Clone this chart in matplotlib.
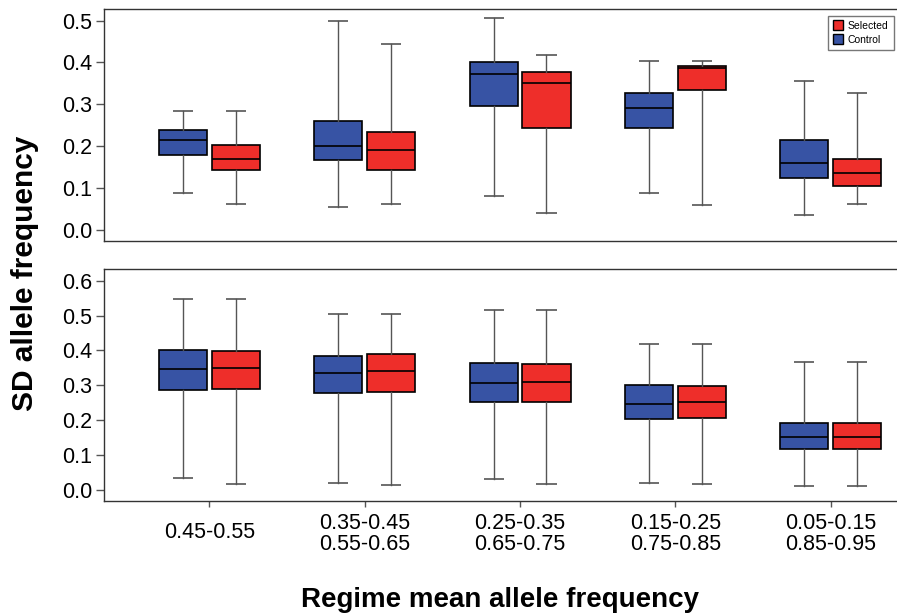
import matplotlib.pyplot as plt
import matplotlib.transforms as mtransforms
import numpy as np
from matplotlib.lines import Line2D

plt.rcParams['font.family'] = ['Liberation Sans', 'DejaVu Sans']

groups = ['0.45-0.55', '0.35-0.45\n0.55-0.65', '0.25-0.35\n0.65-0.75',
          '0.15-0.25\n0.75-0.85', '0.05-0.15\n0.85-0.95']

# top panel: whisker low, q1, median, q3, whisker high
top_control_lo = [0.088, 0.054, 0.081, 0.089, 0.035]
top_control_q1 = [0.180, 0.168, 0.295, 0.244, 0.123]
top_control_med = [0.214, 0.200, 0.373, 0.291, 0.161]
top_control_q3 = [0.238, 0.259, 0.402, 0.326, 0.214]
top_control_hi = [0.285, 0.500, 0.505, 0.404, 0.355]

top_selected_lo = [0.063, 0.061, 0.041, 0.060, 0.061]
top_selected_q1 = [0.143, 0.143, 0.243, 0.334, 0.106]
top_selected_med = [0.170, 0.191, 0.350, 0.386, 0.137]
top_selected_q3 = [0.202, 0.233, 0.377, 0.392, 0.170]
top_selected_hi = [0.283, 0.443, 0.418, 0.404, 0.326]

# bottom panel
bot_control_lo = [0.033, 0.021, 0.031, 0.019, 0.010]
bot_control_q1 = [0.286, 0.277, 0.251, 0.202, 0.117]
bot_control_med = [0.347, 0.336, 0.306, 0.247, 0.151]
bot_control_q3 = [0.400, 0.385, 0.363, 0.301, 0.191]
bot_control_hi = [0.547, 0.505, 0.516, 0.418, 0.368]

bot_selected_lo = [0.018, 0.013, 0.016, 0.016, 0.012]
bot_selected_q1 = [0.290, 0.280, 0.253, 0.205, 0.117]
bot_selected_med = [0.349, 0.342, 0.308, 0.252, 0.151]
bot_selected_q3 = [0.397, 0.389, 0.362, 0.299, 0.192]
bot_selected_hi = [0.547, 0.505, 0.516, 0.418, 0.368]

blue = '#3753a4'
red = '#ee2e2a'


def make_stats(lo, q1, med, q3, hi):
    return [dict(whislo=a, q1=b, med=c, q3=d, whishi=e, fliers=[])
            for a, b, c, d, e in zip(lo, q1, med, q3, hi)]


def draw_boxes(ax, stats, pos, color):
    ax.bxp(stats, positions=pos, widths=0.31, patch_artist=True,
           showfliers=False,
           boxprops=dict(facecolor=color, edgecolor='black', linewidth=1.2),
           medianprops=dict(color='black', linewidth=1.2),
           whiskerprops=dict(color='#555555', linewidth=1.0),
           capprops=dict(color='#555555', linewidth=1.2, solid_capstyle='butt'),
           capwidths=0.13, manage_ticks=False)


fig = plt.figure(figsize=(8.97, 6.16), dpi=100)
ax1 = fig.add_axes([0.116, 0.609, 0.884, 0.376])
ax2 = fig.add_axes([0.116, 0.187, 0.884, 0.376])

x = np.arange(1, 6)
off = 0.17

draw_boxes(ax1, make_stats(top_control_lo, top_control_q1, top_control_med,
                           top_control_q3, top_control_hi), x - off, blue)
draw_boxes(ax1, make_stats(top_selected_lo, top_selected_q1, top_selected_med,
                           top_selected_q3, top_selected_hi), x + off, red)
draw_boxes(ax2, make_stats(bot_control_lo, bot_control_q1, bot_control_med,
                           bot_control_q3, bot_control_hi), x - off, blue)
draw_boxes(ax2, make_stats(bot_selected_lo, bot_selected_q1, bot_selected_med,
                           bot_selected_q3, bot_selected_hi), x + off, red)

for ax in (ax1, ax2):
    ax.set_xlim(0.322, 5.427)
    ax.spines['right'].set_visible(False)
    for s in ('left', 'top', 'bottom'):
        ax.spines[s].set_color('#333333')
        ax.spines[s].set_linewidth(1.0)
    ax.tick_params(axis='y', labelsize=15.5, length=5.5, width=1.0,
                   color='#555555', pad=3)

ax1.set_ylim(-0.026, 0.527)
ax1.set_yticks(np.arange(0, 0.51, 0.1))
ax1.set_yticklabels(['0.0', '0.1', '0.2', '0.3', '0.4', '0.5'])
ax1.set_xticks([])

ax2.set_ylim(-0.0315, 0.633)
ax2.set_yticks(np.arange(0, 0.61, 0.1))
ax2.set_yticklabels(['0.0', '0.1', '0.2', '0.3', '0.4', '0.5', '0.6'])
ax2.set_xticks(x)
ax2.set_xticklabels(groups, fontsize=15.5, linespacing=1.05)
ax2.tick_params(axis='x', length=4.5, width=1.0, pad=4, color='#555555')
# single-line label sits a bit lower than the first line of the others
first = ax2.get_xticklabels()[0]
first.set_transform(first.get_transform() +
                    mtransforms.ScaledTranslation(0, -9 / 100, fig.dpi_scale_trans))

# legend
handles = [Line2D([], [], marker='s', linestyle='', markersize=7,
                  markerfacecolor=red, markeredgecolor='black', label='Selected'),
           Line2D([], [], marker='s', linestyle='', markersize=7,
                  markerfacecolor=blue, markeredgecolor='black', label='Control')]
leg = ax1.legend(handles=handles, loc='upper right', bbox_to_anchor=(1.0, 0.985),
                 fontsize=7.5, frameon=True, fancybox=False, handlelength=0.8,
                 handletextpad=0.6, borderpad=0.5, labelspacing=0.35,
                 borderaxespad=0.3)
leg.get_frame().set_edgecolor('#555555')
leg.get_frame().set_linewidth(1.0)

fig.text(0.028, 0.557, 'SD allele frequency', rotation=90, fontsize=21.5,
         fontweight='bold', ha='center', va='center')
fig.text(0.557, 0.026, 'Regime mean allele frequency', fontsize=20,
         fontweight='bold', ha='center', va='center')

fig.savefig('out.png', dpi=100)
